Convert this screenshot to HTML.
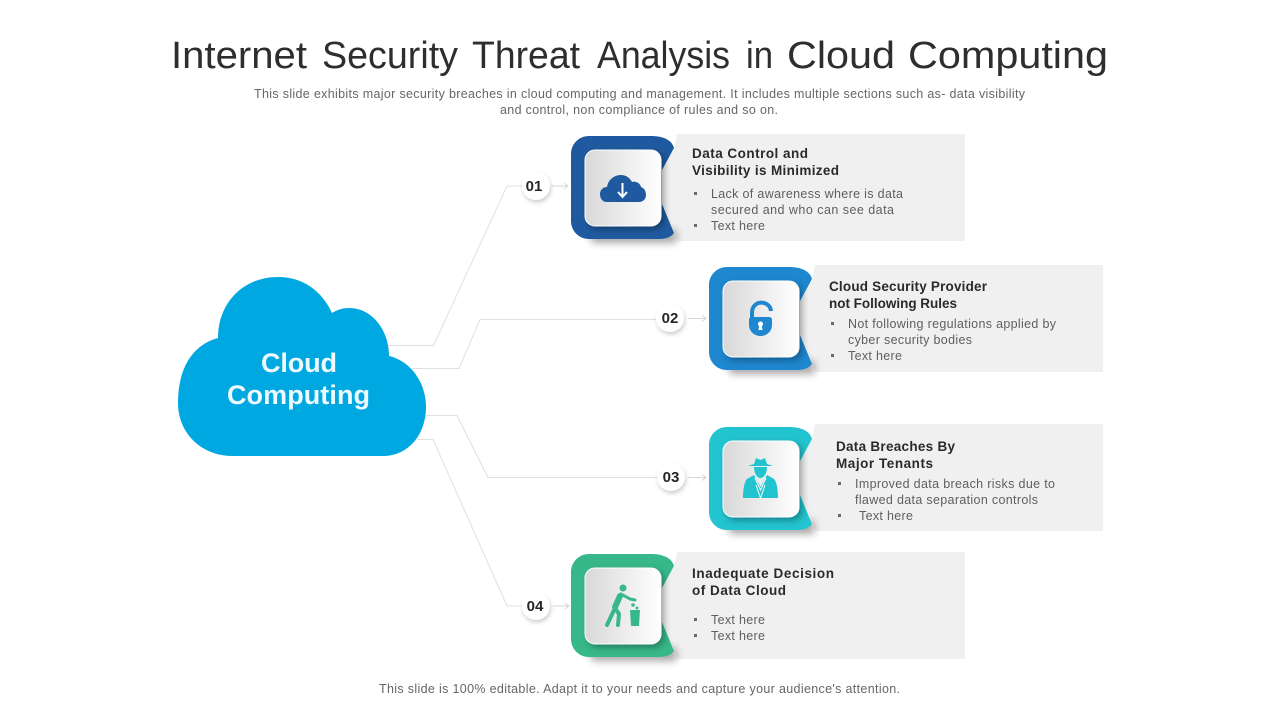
<!DOCTYPE html>
<html lang="en"><head><meta charset="utf-8"><title>Internet Security Threat Analysis in Cloud Computing</title>
<style>
html,body{margin:0;padding:0;background:#fff;width:1280px;height:720px;overflow:hidden}
svg{display:block}
text{font-family:"Liberation Sans",sans-serif}
.t{font-size:38px;fill:#2e2e2e}
.h{font-size:13.500px;font-weight:700;fill:#2a2a2a}
.b{font-size:12.500px;fill:#5f5f5f}
.s{font-size:12.500px;fill:#666}
.n{font-size:15px;font-weight:700;fill:#262626;text-anchor:middle}
.c{font-size:27px;font-weight:700;fill:#eefaff}
.l{fill:none;stroke:#e0e0e0;stroke-width:1}
.a{fill:none;stroke:#d6d6d6;stroke-width:1}
.q{fill:#6a6a6a}
</style></head><body>
<svg xmlns="http://www.w3.org/2000/svg" width="1280" height="720" viewBox="0 0 1280 720">
<defs>
<linearGradient id="g"><stop offset="0" stop-color="#d8d8d8"/><stop offset="1" stop-color="#fff"/></linearGradient>
<filter id="bl" x="-30%" y="-80%" width="160%" height="260%"><feGaussianBlur stdDeviation="4"/></filter>
<filter id="sc" x="-25%" y="-25%" width="150%" height="150%"><feDropShadow dx="3" dy="3" stdDeviation="3.500" flood-color="#000" flood-opacity=".32"/></filter>
<filter id="sn" x="-40%" y="-40%" width="190%" height="190%"><feDropShadow dx="1" dy="2.500" stdDeviation="2" flood-color="#000" flood-opacity=".2"/></filter>
<path id="o" d="M18 0H80C92 0 101 4 103 12L91 34V68L103 97C100 101 95 103 88 103H18C8 103 0 95 0 85V18C0 8 8 0 18 0Z"/>
<path id="p" d="M106 -2H394V105H106L103 94L88 68V34L103 14Z" fill="#f0f0f0"/>
<path id="d" d="M14 90H94L106 96L105 107H22Z" fill="#000" opacity=".34" filter="url(#bl)"/>
</defs>

<text class="t" x="171" y="68" textLength="136" lengthAdjust="spacingAndGlyphs">Internet</text>
<text class="t" x="322" y="68" textLength="136" lengthAdjust="spacingAndGlyphs">Security</text>
<text class="t" x="472" y="68" textLength="108" lengthAdjust="spacingAndGlyphs">Threat</text>
<text class="t" x="597" y="68" textLength="133" lengthAdjust="spacingAndGlyphs">Analysis</text>
<text class="t" x="746" y="68" textLength="27" lengthAdjust="spacingAndGlyphs">in</text>
<text class="t" x="787" y="68" textLength="108" lengthAdjust="spacingAndGlyphs">Cloud</text>
<text class="t" x="908" y="68" textLength="200" lengthAdjust="spacingAndGlyphs">Computing</text>
<text class="s" x="254" y="98" textLength="771">This slide exhibits major security breaches in cloud computing and management. It includes multiple sections such as- data visibility</text>
<text class="s" x="500" y="114" textLength="278">and control, non compliance of rules and so on.</text>
<text class="s" x="379" y="693" textLength="521">This slide is 100% editable. Adapt it to your needs and capture your audience's attention.</text>

<!-- connectors -->
<path class="l" d="M388 345.500H433.500L507 186H523"/>
<path class="l" d="M412 368.500H459L480 319.500H657"/>
<path class="l" d="M426 415.500H457L488 477.500H658"/>
<path class="l" d="M417 439.500H433L507 606H523"/>

<!-- cloud -->
<path fill="#00a8e2" d="M233 456C200 456 178 432 178 403C178 365 195 344 218 338C218 303 243 277 278 277C303 277 322 291 332 313C337 310 342 308 349 308C372 308 389 330 389 356C411 361 426 383 426 407C426 435 408 456 383 456Z"/>
<text class="c" x="261" y="372" textLength="76">Cloud</text>
<text class="c" x="227" y="404" textLength="143">Computing</text>

<!-- item 1 -->
<g transform="translate(571 136)">
<use href="#p"/><use href="#d"/><use href="#o" fill="#1f5aa0"/>
<rect x="14" y="14" width="76" height="76" rx="10" fill="url(#g)" stroke="#fff" filter="url(#sc)"/>
</g>
<path fill="#1f5aa0" d="M607 202C602 202 600 198 600 194C600 190 603 187 607 187C608 180 614 175 621 175C626 175 630 178 632 182C634 181 640 182 641 187C644 188 646 191 646 195C646 199 643 202 639 202Z"/>
<path fill="none" stroke="#fff" stroke-width="2" d="M622.500 183V196M618 192L622.500 197L627 192"/>
<text class="h" x="692" y="158" textLength="116">Data Control and</text>
<text class="h" x="692" y="175" textLength="147">Visibility is Minimized</text>
<rect class="q" x="694" y="192" width="3" height="3"/><text class="b" x="711" y="198" textLength="192">Lack of awareness where is data</text>
<text class="b" x="711" y="214" textLength="183">secured and who can see data</text>
<rect class="q" x="694" y="224" width="3" height="3"/><text class="b" x="711" y="230" textLength="54">Text here</text>

<!-- item 2 -->
<g transform="translate(709 267)">
<use href="#p"/><use href="#d"/><use href="#o" fill="#1e87cf"/>
<rect x="14" y="14" width="76" height="76" rx="10" fill="url(#g)" stroke="#fff" filter="url(#sc)"/>
</g>
<path fill="#1e87cf" d="M749 320Q749 317 752 317H769Q772 317 772 320V325C772 331 767 336 760.500 336C754 336 749 331 749 325Z"/>
<path fill="none" stroke="#1e87cf" stroke-width="4" d="M752 318V313C752 299 770 300 771 311"/>
<circle cx="760.500" cy="324" r="2.500" fill="#fff"/><path fill="#fff" d="M759.300 324H761.700L762.500 330H758.500Z"/>
<text class="h" x="829" y="291" textLength="158">Cloud Security Provider</text>
<text class="h" x="829" y="308" textLength="128">not Following Rules</text>
<rect class="q" x="831" y="322" width="3" height="3"/><text class="b" x="848" y="328" textLength="208">Not following regulations applied by</text>
<text class="b" x="848" y="344" textLength="124">cyber security bodies</text>
<rect class="q" x="831" y="354" width="3" height="3"/><text class="b" x="848" y="360" textLength="54">Text here</text>

<!-- item 3 -->
<use href="#p" x="709" y="426"/>
<g transform="translate(709 427)">
<use href="#d"/><use href="#o" fill="#22c4d0"/>
<rect x="14" y="14" width="76" height="76" rx="10" fill="url(#g)" stroke="#fff" filter="url(#sc)"/>
</g>
<g fill="#22c4d0">
<path d="M754 464L756 458L760.500 460L765 458L767 464L773 466H748Z"/>
<path d="M754 467H767C767 473 764 478 760.500 478C757 478 754 473 754 467Z"/>
<path d="M754 475L747 479C744 482 743 491 743 498H778C778 491 777 482 774 479L767 475L760.500 487Z"/>
</g>
<path fill="none" stroke="#fff" stroke-width="1" d="M755 478L760.500 490L766 478M756 485L760.500 498L765 485"/>
<text class="h" x="836" y="451" textLength="119">Data Breaches By</text>
<text class="h" x="836" y="468" textLength="97">Major Tenants</text>
<rect class="q" x="838" y="482" width="3" height="3"/><text class="b" x="855" y="488" textLength="200">Improved data breach risks due to</text>
<text class="b" x="855" y="504" textLength="183">flawed data separation controls</text>
<rect class="q" x="838" y="514" width="3" height="3"/><text class="b" x="859" y="520" textLength="54">Text here</text>

<!-- item 4 -->
<g transform="translate(571 554)">
<use href="#p"/><use href="#d"/><use href="#o" fill="#37b88a"/>
<rect x="14" y="14" width="76" height="76" rx="10" fill="url(#g)" stroke="#fff" filter="url(#sc)"/>
</g>
<g fill="none" stroke="#37b88a" stroke-linecap="round" stroke-linejoin="round">
<path stroke-width="6" d="M620 596L615 607"/>
<path stroke-width="3" d="M621 594L630 599L635 600"/>
<path stroke-width="4" d="M615 608L607 625M615 608L619 614L618 625"/>
</g>
<g fill="#37b88a">
<circle cx="623" cy="588" r="3.500"/>
<path d="M630 610H640L639 626H631Z"/>
<circle cx="633" cy="605" r="1.800"/><circle cx="637" cy="608" r="1.500"/>
</g>
<text class="h" x="692" y="578" textLength="142">Inadequate Decision</text>
<text class="h" x="692" y="595" textLength="94">of Data Cloud</text>
<rect class="q" x="694" y="618" width="3" height="3"/><text class="b" x="711" y="624" textLength="54">Text here</text>
<rect class="q" x="694" y="634" width="3" height="3"/><text class="b" x="711" y="640" textLength="54">Text here</text>

<!-- numbers -->
<circle cx="536" cy="186" r="14" fill="#fff" filter="url(#sn)"/><text class="n" x="534" y="191">01</text>
<path class="a" d="M551 186H568M564 183L568 186L564 189"/>
<circle cx="670" cy="318" r="14" fill="#fff" filter="url(#sn)"/><text class="n" x="670" y="323">02</text>
<path class="a" d="M688 318.500H706M702 315.500L706 318.500L702 321.500"/>
<circle cx="671" cy="477" r="14" fill="#fff" filter="url(#sn)"/><text class="n" x="671" y="482">03</text>
<path class="a" d="M688 477.500H706M702 474.500L706 477.500L702 480.500"/>
<circle cx="536" cy="606" r="14" fill="#fff" filter="url(#sn)"/><text class="n" x="535" y="611">04</text>
<path class="a" d="M553 606H569M565 603L569 606L565 609"/>
</svg>
</body></html>
